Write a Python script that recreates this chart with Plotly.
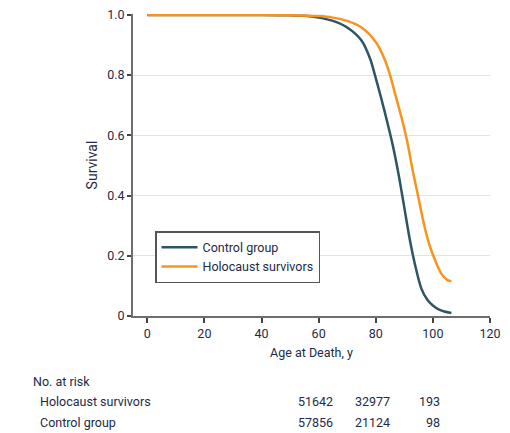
import plotly.graph_objects as go

# Survival curves (age at death, survival proportion)
control_age = [0, 40, 50, 55, 60, 65, 70, 75, 78, 80, 82, 84, 86, 88, 90, 92, 94, 96, 98, 100, 102, 104, 106.5]
control_surv = [1.0, 1.0, 0.999, 0.997, 0.991, 0.98, 0.958, 0.915, 0.855, 0.79, 0.72, 0.645, 0.565, 0.47, 0.36, 0.25, 0.16, 0.09, 0.055, 0.035, 0.022, 0.015, 0.01]
holo_age = [0, 40, 50, 60, 65, 70, 75, 80, 83, 85, 87, 89, 91, 93, 95, 97, 99, 101, 103, 105, 106.5]
holo_surv = [1.0, 1.0, 0.999, 0.996, 0.991, 0.98, 0.958, 0.91, 0.855, 0.80, 0.73, 0.66, 0.58, 0.48, 0.39, 0.30, 0.23, 0.18, 0.14, 0.12, 0.115]

x_ticks = [0, 20, 40, 60, 80, 100, 120]
y_ticks = [0, 0.2, 0.4, 0.6, 0.8, 1.0]
y_tick_labels = ["0", "0.2", "0.4", "0.6", "0.8", "1.0"]

risk_groups = ["Holocaust survivors", "Control group"]
risk_holo = ["51642", "32977", "193"]
risk_control = ["57856", "21124", "98"]

FONT = "Roboto, Liberation Sans, sans-serif"
TXT = "#1e2a45"
FS = 12.5

fig = go.Figure()
fig.add_trace(go.Scatter(x=control_age, y=control_surv, mode="lines", name="Control group",
                         line=dict(color="#2d5562", width=2.5, shape="spline", smoothing=0.8)))
fig.add_trace(go.Scatter(x=holo_age, y=holo_surv, mode="lines", name="Holocaust survivors",
                         line=dict(color="#f7941d", width=2.5, shape="spline", smoothing=0.8)))

OFF = 8  # page offset of the plot div
W, H = 510 - OFF, 433 - OFF
# desired plot area in page pixels: x 133..490, y 14..316
L, T = 133 - OFF, 14 - OFF
R = W - (490 - OFF)
B = H - (316 - OFF)
pw = W - L - R
ph = H - T - B

def px(xp):
    return (xp - 133) / pw

def py(yp):
    return (316 - yp) / ph

ann = []
ann.append(dict(text="No. at risk", x=px(31), y=py(381), xref="paper", yref="paper",
                xanchor="left", yanchor="middle", showarrow=False, font=dict(size=FS, color=TXT, family=FONT)))
for i, g in enumerate(risk_groups):
    ann.append(dict(text=g, x=px(38), y=py(402 + 20 * i), xref="paper", yref="paper",
                    xanchor="left", yanchor="middle", showarrow=False, font=dict(size=FS, color=TXT, family=FONT)))
num_right = [335, 392, 442]
for row, vals in enumerate([risk_holo, risk_control]):
    for j, v in enumerate(vals):
        ann.append(dict(text=v, x=px(num_right[j]), y=py(402 + 20 * row), xref="paper", yref="paper",
                        xanchor="right", yanchor="middle", showarrow=False,
                        font=dict(size=FS, color=TXT, family=FONT)))

fig.update_layout(
    width=W, height=H,
    margin=dict(l=L, r=R, t=T, b=B, autoexpand=False),
    plot_bgcolor="white", paper_bgcolor="white",
    font=dict(family=FONT, color=TXT, size=FS),
    showlegend=True,
    legend=dict(x=px(155), y=py(231), xanchor="left", yanchor="top",
                bordercolor="#555555", borderwidth=1.5, bgcolor="white", itemwidth=36,
                font=dict(size=FS, color=TXT, family=FONT), tracegroupgap=0),
    xaxis=dict(range=[-5, 120], tickvals=x_ticks, showgrid=False, zeroline=False, automargin=False,
               showline=True, linecolor="#6e6e6e", linewidth=2,
               ticks="outside", ticklen=5, tickcolor="#444444", tickwidth=1.5,
               tickfont=dict(size=FS, color=TXT),
               title=dict(text="Age at Death, y", font=dict(size=FS, color=TXT), standoff=8)),
    yaxis=dict(range=[0, 1.003], tickvals=y_ticks, ticktext=y_tick_labels, automargin=False,
               ticklabeloverflow="allow",
               showgrid=True, gridcolor="#e3e3e3", gridwidth=1.2, zeroline=False,
               showline=True, linecolor="#6e6e6e", linewidth=2,
               ticks="outside", ticklen=4, tickcolor="#444444", tickwidth=1.5,
               tickfont=dict(size=FS, color=TXT),
               title=dict(text="Survival", font=dict(size=14, color=TXT), standoff=6)),
    annotations=ann,
)

fig.write_html("out.html")
